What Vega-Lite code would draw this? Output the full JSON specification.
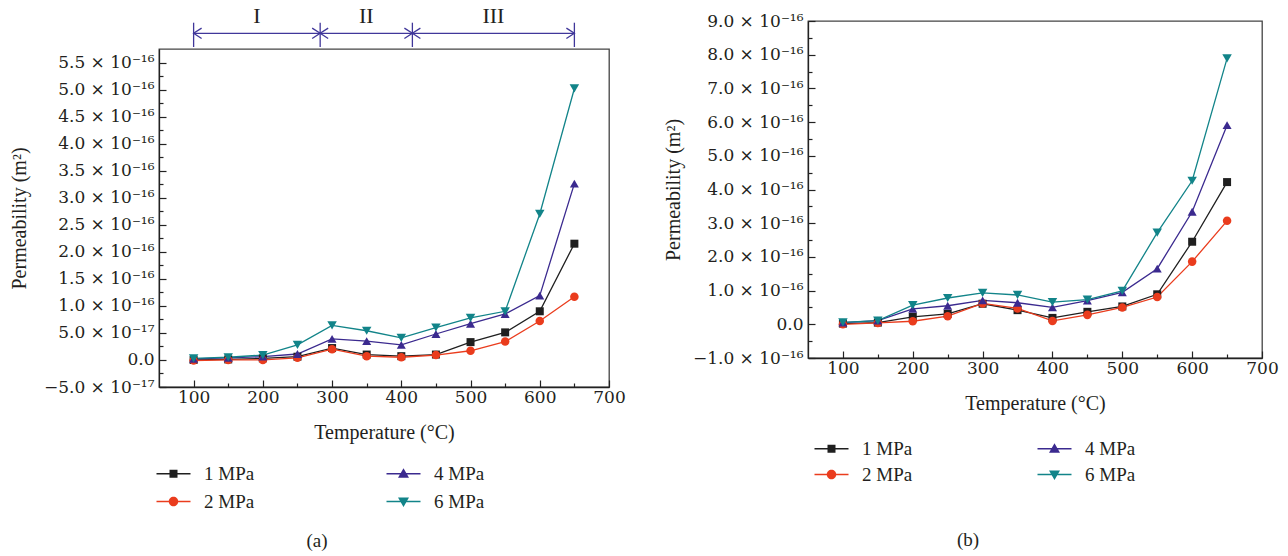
{
  "$schema": "https://vega.github.io/schema/vega-lite/v6.json",
  "background": "white",
  "padding": {"left": 8, "top": 5, "right": 5, "bottom": 5},
  "spacing": 36,
  "datasets": {
    "a": [
      {"T": 100, "p": "1 MPa", "k": 0.0},
      {"T": 150, "p": "1 MPa", "k": 1e-18},
      {"T": 200, "p": "1 MPa", "k": 3e-18},
      {"T": 250, "p": "1 MPa", "k": 6e-18},
      {"T": 300, "p": "1 MPa", "k": 2.2e-17},
      {"T": 350, "p": "1 MPa", "k": 1.0e-17},
      {"T": 400, "p": "1 MPa", "k": 7e-18},
      {"T": 450, "p": "1 MPa", "k": 1.0e-17},
      {"T": 500, "p": "1 MPa", "k": 3.3e-17},
      {"T": 550, "p": "1 MPa", "k": 5.1e-17},
      {"T": 600, "p": "1 MPa", "k": 9.0e-17},
      {"T": 650, "p": "1 MPa", "k": 2.15e-16},
      {"T": 100, "p": "2 MPa", "k": -1e-18},
      {"T": 150, "p": "2 MPa", "k": 0.0},
      {"T": 200, "p": "2 MPa", "k": 0.0},
      {"T": 250, "p": "2 MPa", "k": 4e-18},
      {"T": 300, "p": "2 MPa", "k": 2.0e-17},
      {"T": 350, "p": "2 MPa", "k": 7e-18},
      {"T": 400, "p": "2 MPa", "k": 5e-18},
      {"T": 450, "p": "2 MPa", "k": 9e-18},
      {"T": 500, "p": "2 MPa", "k": 1.7e-17},
      {"T": 550, "p": "2 MPa", "k": 3.4e-17},
      {"T": 600, "p": "2 MPa", "k": 7.2e-17},
      {"T": 650, "p": "2 MPa", "k": 1.17e-16},
      {"T": 100, "p": "4 MPa", "k": 2e-18},
      {"T": 150, "p": "4 MPa", "k": 4e-18},
      {"T": 200, "p": "4 MPa", "k": 6e-18},
      {"T": 250, "p": "4 MPa", "k": 1.1e-17},
      {"T": 300, "p": "4 MPa", "k": 3.9e-17},
      {"T": 350, "p": "4 MPa", "k": 3.5e-17},
      {"T": 400, "p": "4 MPa", "k": 2.8e-17},
      {"T": 450, "p": "4 MPa", "k": 4.8e-17},
      {"T": 500, "p": "4 MPa", "k": 6.7e-17},
      {"T": 550, "p": "4 MPa", "k": 8.5e-17},
      {"T": 600, "p": "4 MPa", "k": 1.19e-16},
      {"T": 650, "p": "4 MPa", "k": 3.26e-16},
      {"T": 100, "p": "6 MPa", "k": 3e-18},
      {"T": 150, "p": "6 MPa", "k": 5e-18},
      {"T": 200, "p": "6 MPa", "k": 9e-18},
      {"T": 250, "p": "6 MPa", "k": 2.8e-17},
      {"T": 300, "p": "6 MPa", "k": 6.4e-17},
      {"T": 350, "p": "6 MPa", "k": 5.4e-17},
      {"T": 400, "p": "6 MPa", "k": 4.1e-17},
      {"T": 450, "p": "6 MPa", "k": 6.0e-17},
      {"T": 500, "p": "6 MPa", "k": 7.8e-17},
      {"T": 550, "p": "6 MPa", "k": 9.0e-17},
      {"T": 600, "p": "6 MPa", "k": 2.70e-16},
      {"T": 650, "p": "6 MPa", "k": 5.02e-16}
    ],
    "b": [
      {"T": 100, "p": "1 MPa", "k": 2e-18},
      {"T": 150, "p": "1 MPa", "k": 5e-18},
      {"T": 200, "p": "1 MPa", "k": 2.2e-17},
      {"T": 250, "p": "1 MPa", "k": 3.1e-17},
      {"T": 300, "p": "1 MPa", "k": 6.1e-17},
      {"T": 350, "p": "1 MPa", "k": 4.2e-17},
      {"T": 400, "p": "1 MPa", "k": 1.9e-17},
      {"T": 450, "p": "1 MPa", "k": 3.7e-17},
      {"T": 500, "p": "1 MPa", "k": 5.3e-17},
      {"T": 550, "p": "1 MPa", "k": 8.9e-17},
      {"T": 600, "p": "1 MPa", "k": 2.45e-16},
      {"T": 650, "p": "1 MPa", "k": 4.22e-16},
      {"T": 100, "p": "2 MPa", "k": 0.0},
      {"T": 150, "p": "2 MPa", "k": 4e-18},
      {"T": 200, "p": "2 MPa", "k": 9e-18},
      {"T": 250, "p": "2 MPa", "k": 2.4e-17},
      {"T": 300, "p": "2 MPa", "k": 6.2e-17},
      {"T": 350, "p": "2 MPa", "k": 4.7e-17},
      {"T": 400, "p": "2 MPa", "k": 1.0e-17},
      {"T": 450, "p": "2 MPa", "k": 2.8e-17},
      {"T": 500, "p": "2 MPa", "k": 5.0e-17},
      {"T": 550, "p": "2 MPa", "k": 8.1e-17},
      {"T": 600, "p": "2 MPa", "k": 1.86e-16},
      {"T": 650, "p": "2 MPa", "k": 3.07e-16},
      {"T": 100, "p": "4 MPa", "k": 5e-18},
      {"T": 150, "p": "4 MPa", "k": 1.1e-17},
      {"T": 200, "p": "4 MPa", "k": 4.6e-17},
      {"T": 250, "p": "4 MPa", "k": 5.5e-17},
      {"T": 300, "p": "4 MPa", "k": 7.1e-17},
      {"T": 350, "p": "4 MPa", "k": 6.4e-17},
      {"T": 400, "p": "4 MPa", "k": 5.0e-17},
      {"T": 450, "p": "4 MPa", "k": 7.0e-17},
      {"T": 500, "p": "4 MPa", "k": 9.5e-17},
      {"T": 550, "p": "4 MPa", "k": 1.65e-16},
      {"T": 600, "p": "4 MPa", "k": 3.34e-16},
      {"T": 650, "p": "4 MPa", "k": 5.91e-16},
      {"T": 100, "p": "6 MPa", "k": 6e-18},
      {"T": 150, "p": "6 MPa", "k": 1.1e-17},
      {"T": 200, "p": "6 MPa", "k": 5.7e-17},
      {"T": 250, "p": "6 MPa", "k": 7.8e-17},
      {"T": 300, "p": "6 MPa", "k": 9.3e-17},
      {"T": 350, "p": "6 MPa", "k": 8.7e-17},
      {"T": 400, "p": "6 MPa", "k": 6.6e-17},
      {"T": 450, "p": "6 MPa", "k": 7.3e-17},
      {"T": 500, "p": "6 MPa", "k": 9.9e-17},
      {"T": 550, "p": "6 MPa", "k": 2.72e-16},
      {"T": 600, "p": "6 MPa", "k": 4.26e-16},
      {"T": 650, "p": "6 MPa", "k": 7.89e-16}
    ],
    "stages": [
      {"T": 191.4, "label": "I"},
      {"T": 349.4, "label": "II"},
      {"T": 533, "label": "III"}
    ],
    "bounds": [
      {"T": 100}, {"T": 282.8}, {"T": 416}, {"T": 650}
    ],
    "span": [
      {"T": 100, "T2": 650}
    ],
    "heads": [
      {"T": 100, "dir": "left"},
      {"T": 282.8, "dir": "right"},
      {"T": 282.8, "dir": "left"},
      {"T": 416, "dir": "right"},
      {"T": 416, "dir": "left"},
      {"T": 650, "dir": "right"}
    ]
  },
  "hconcat": [
    {
      "vconcat": [
        {
          "width": 450,
          "height": 26,
          "view": {"stroke": null},
          "encoding": {
            "x": {"field": "T", "type": "quantitative", "scale": {"domain": [50, 700], "nice": false, "zero": false}, "axis": null}
          },
          "layer": [
            {
              "data": {"name": "span"},
              "mark": {"type": "rule", "color": "#40379a", "strokeWidth": 1.3},
              "encoding": {
                "x2": {"field": "T2"},
                "y": {"datum": 13.7, "type": "quantitative", "scale": {"domain": [0, 26], "nice": false, "zero": false}, "axis": null}
              }
            },
            {
              "data": {"name": "bounds"},
              "mark": {"type": "rule", "color": "#40379a", "strokeWidth": 1.3},
              "encoding": {
                "y": {"datum": 0, "type": "quantitative", "scale": {"domain": [0, 26], "nice": false, "zero": false}, "axis": null},
                "y2": {"datum": 24.3}
              }
            },
            {
              "data": {"name": "heads"},
              "mark": {"type": "point", "filled": false, "opacity": 1, "color": "#40379a", "strokeWidth": 1.3, "size": 256},
              "encoding": {
                "y": {"datum": 13.7, "type": "quantitative", "scale": {"domain": [0, 26], "nice": false, "zero": false}, "axis": null},
                "shape": {"field": "dir", "type": "nominal", "scale": {"domain": ["left", "right"], "range": ["M1,-0.65L0,0L1,0.65", "M-1,-0.65L0,0L-1,0.65"]}, "legend": null}
              }
            },
            {
              "data": {"name": "stages"},
              "mark": {"type": "text", "fontSize": 22, "font": "Liberation Serif", "color": "#231f20", "baseline": "middle"},
              "encoding": {
                "y": {"datum": 31, "type": "quantitative", "scale": {"domain": [0, 26], "nice": false, "zero": false}, "axis": null},
                "text": {"field": "label"}
              }
            }
          ]
        },
        {
          "width": 450,
          "height": 338,
          "title": {"text": "(a)", "orient": "bottom", "anchor": "middle", "dx": -67, "offset": 20},
          "encoding": {
            "x": {
              "field": "T", "type": "quantitative",
              "scale": {"domain": [50, 700], "nice": false, "zero": false},
              "axis": {
                "title": "Temperature (°C)",
                "values": [100, 150, 200, 250, 300, 350, 400, 450, 500, 550, 600, 650, 700],
                "labelExpr": "datum.value % 100 == 0 ? format(datum.value, 'd') : ''",
                "tickSize": {"condition": {"test": "datum.value % 100 == 0", "value": -7}, "value": -4},
                "labelPadding": 9,
                "titlePadding": 14
              }
            },
            "y": {
              "field": "k", "type": "quantitative",
              "scale": {"domain": [-5e-17, 5.75e-16], "nice": false, "zero": false},
              "axis": {
                "title": "Permeability (m²)",
                "values": [-5e-17, -2.5e-17, 0, 2.5e-17, 5e-17, 7.5e-17, 1e-16, 1.25e-16, 1.5e-16, 1.75e-16, 2e-16, 2.25e-16, 2.5e-16, 2.75e-16, 3e-16, 3.25e-16, 3.5e-16, 3.75e-16, 4e-16, 4.25e-16, 4.5e-16, 4.75e-16, 5e-16, 5.25e-16, 5.5e-16],
                "labelExpr": "round(datum.value*4e16) % 2 != 0 ? '' : (abs(datum.value) < 1e-20 ? '0.0' : (abs(datum.value) < 1e-16 ? format(datum.value*1e17, '.1f') + ' × 10⁻¹⁷' : format(datum.value*1e16, '.1f') + ' × 10⁻¹⁶'))",
                "tickSize": {"condition": {"test": "round(datum.value*4e16) % 2 == 0", "value": -7}, "value": -4},
                "labelPadding": 12,
                "titlePadding": 14
              }
            }
          },
          "layer": [
            {
              "data": {"name": "a"},
              "mark": {"type": "line", "strokeWidth": 1.3},
              "encoding": {
                "color": {"field": "p", "type": "nominal", "scale": {"domain": ["1 MPa", "2 MPa", "4 MPa", "6 MPa"], "range": ["#1f1f1f", "#ea3c1d", "#3b2a8f", "#128489"]}, "legend": null},
                "detail": {"field": "p"}
              }
            },
            {
              "data": {"name": "a"},
              "mark": {"type": "point", "filled": true, "opacity": 1},
              "encoding": {
                "color": {"field": "p", "type": "nominal", "scale": {"domain": ["1 MPa", "2 MPa", "4 MPa", "6 MPa"], "range": ["#1f1f1f", "#ea3c1d", "#3b2a8f", "#128489"]}, "legend": null},
                "shape": {"field": "p", "type": "nominal", "scale": {"domain": ["1 MPa", "2 MPa", "4 MPa", "6 MPa"], "range": ["square", "circle", "triangle-up", "triangle-down"]}, "legend": null},
                "size": {"field": "p", "type": "nominal", "scale": {"domain": ["1 MPa", "2 MPa", "4 MPa", "6 MPa"], "range": [64, 90, 120, 120]}, "legend": null}
              }
            },
            {
              "data": {"name": "a"},
              "transform": [{"filter": "datum.T < 0"}],
              "mark": {"type": "point", "filled": true, "opacity": 1},
              "encoding": {
                "color": {"field": "p", "type": "nominal", "scale": {"domain": ["1 MPa", "2 MPa", "4 MPa", "6 MPa"], "range": ["#1f1f1f", "#ea3c1d", "#3b2a8f", "#128489"]},
                  "legend": {"title": null, "orient": "none", "legendX": 5, "legendY": 415, "columns": 2, "columnPadding": 131, "rowPadding": 8, "symbolSize": 100, "labelOffset": 21, "symbolStrokeWidth": 0}},
                "shape": {"field": "p", "type": "nominal", "scale": {"domain": ["1 MPa", "2 MPa", "4 MPa", "6 MPa"], "range": [
                  "M-3.4,-0.15H3.4V0.15H-3.4Z M-0.8,-0.8H0.8V0.8H-0.8Z",
                  "M-3.4,-0.15H3.4V0.15H-3.4Z M-0.95,0A0.95,0.95 0 1,1 0.95,0A0.95,0.95 0 1,1 -0.95,0Z",
                  "M-3.4,-0.15H3.4V0.15H-3.4Z M0,-1.1L1.1,0.8L-1.1,0.8Z",
                  "M-3.4,-0.15H3.4V0.15H-3.4Z M-1.1,-0.8L1.1,-0.8L0,1.1Z"]},
                  "legend": {"title": null, "orient": "none", "legendX": 5, "legendY": 415, "columns": 2, "columnPadding": 131, "rowPadding": 8, "symbolSize": 100, "labelOffset": 21, "symbolStrokeWidth": 0}}
              }
            }
          ],
          "resolve": {"scale": {"color": "independent", "shape": "independent", "size": "independent"}}
        }
      ],
      "spacing": 0
    },
    {
      "vconcat": [
        {
          "width": 454,
          "height": 337,
          "title": {"text": "(b)", "orient": "bottom", "anchor": "middle", "dx": -67, "offset": 46},
          "encoding": {
            "x": {
              "field": "T", "type": "quantitative",
              "scale": {"domain": [50, 700], "nice": false, "zero": false},
              "axis": {
                "title": "Temperature (°C)",
                "values": [100, 150, 200, 250, 300, 350, 400, 450, 500, 550, 600, 650, 700],
                "labelExpr": "datum.value % 100 == 0 ? format(datum.value, 'd') : ''",
                "tickSize": {"condition": {"test": "datum.value % 100 == 0", "value": -7}, "value": -4},
                "labelPadding": 9,
                "titlePadding": 14
              }
            },
            "y": {
              "field": "k", "type": "quantitative",
              "scale": {"domain": [-1e-16, 9e-16], "nice": false, "zero": false},
              "axis": {
                "title": "Permeability (m²)",
                "values": [-1e-16, -5e-17, 0, 5e-17, 1e-16, 1.5e-16, 2e-16, 2.5e-16, 3e-16, 3.5e-16, 4e-16, 4.5e-16, 5e-16, 5.5e-16, 6e-16, 6.5e-16, 7e-16, 7.5e-16, 8e-16, 8.5e-16, 9e-16],
                "labelExpr": "round(datum.value*2e16) % 2 != 0 ? '' : (abs(datum.value) < 1e-20 ? '0.0' : format(datum.value*1e16, '.1f') + ' × 10⁻¹⁶')",
                "tickSize": {"condition": {"test": "round(datum.value*2e16) % 2 == 0", "value": -7}, "value": -4},
                "labelPadding": 12,
                "titlePadding": 9
              }
            }
          },
          "layer": [
            {
              "data": {"name": "b"},
              "mark": {"type": "line", "strokeWidth": 1.3},
              "encoding": {
                "color": {"field": "p", "type": "nominal", "scale": {"domain": ["1 MPa", "2 MPa", "4 MPa", "6 MPa"], "range": ["#1f1f1f", "#ea3c1d", "#3b2a8f", "#128489"]}, "legend": null},
                "detail": {"field": "p"}
              }
            },
            {
              "data": {"name": "b"},
              "mark": {"type": "point", "filled": true, "opacity": 1},
              "encoding": {
                "color": {"field": "p", "type": "nominal", "scale": {"domain": ["1 MPa", "2 MPa", "4 MPa", "6 MPa"], "range": ["#1f1f1f", "#ea3c1d", "#3b2a8f", "#128489"]}, "legend": null},
                "shape": {"field": "p", "type": "nominal", "scale": {"domain": ["1 MPa", "2 MPa", "4 MPa", "6 MPa"], "range": ["square", "circle", "triangle-up", "triangle-down"]}, "legend": null},
                "size": {"field": "p", "type": "nominal", "scale": {"domain": ["1 MPa", "2 MPa", "4 MPa", "6 MPa"], "range": [64, 90, 120, 120]}, "legend": null}
              }
            },
            {
              "data": {"name": "b"},
              "transform": [{"filter": "datum.T < 0"}],
              "mark": {"type": "point", "filled": true, "opacity": 1},
              "encoding": {
                "color": {"field": "p", "type": "nominal", "scale": {"domain": ["1 MPa", "2 MPa", "4 MPa", "6 MPa"], "range": ["#1f1f1f", "#ea3c1d", "#3b2a8f", "#128489"]},
                  "legend": {"title": null, "orient": "none", "legendX": 14, "legendY": 418, "columns": 2, "columnPadding": 124, "rowPadding": 6, "symbolSize": 100, "labelOffset": 21, "symbolStrokeWidth": 0}},
                "shape": {"field": "p", "type": "nominal", "scale": {"domain": ["1 MPa", "2 MPa", "4 MPa", "6 MPa"], "range": [
                  "M-3.4,-0.15H3.4V0.15H-3.4Z M-0.8,-0.8H0.8V0.8H-0.8Z",
                  "M-3.4,-0.15H3.4V0.15H-3.4Z M-0.95,0A0.95,0.95 0 1,1 0.95,0A0.95,0.95 0 1,1 -0.95,0Z",
                  "M-3.4,-0.15H3.4V0.15H-3.4Z M0,-1.1L1.1,0.8L-1.1,0.8Z",
                  "M-3.4,-0.15H3.4V0.15H-3.4Z M-1.1,-0.8L1.1,-0.8L0,1.1Z"]},
                  "legend": {"title": null, "orient": "none", "legendX": 14, "legendY": 418, "columns": 2, "columnPadding": 124, "rowPadding": 6, "symbolSize": 100, "labelOffset": 21, "symbolStrokeWidth": 0}}
              }
            }
          ],
          "resolve": {"scale": {"color": "independent", "shape": "independent", "size": "independent"}}
        }
      ],
      "bounds": "flush"
    }
  ],
  "config": {
    "font": "Liberation Serif",
    "view": {"stroke": "#444", "strokeWidth": 1.3},
    "axis": {
      "grid": false, "domainColor": "#222", "domainWidth": 1.3, "tickColor": "#222", "tickWidth": 1.2,
      "labelFont": "DejaVu Serif", "labelFontSize": 17, "labelColor": "#231f20",
      "titleFont": "Liberation Serif", "titleFontSize": 20, "titleFontWeight": "normal", "titleColor": "#231f20",
      "labelFlush": false, "labelOverlap": false
    },
    "legend": {"labelFont": "Liberation Serif", "labelFontSize": 19, "labelColor": "#231f20"},
    "title": {"font": "Liberation Serif", "fontSize": 19, "fontWeight": "normal", "color": "#231f20"}
  }
}
